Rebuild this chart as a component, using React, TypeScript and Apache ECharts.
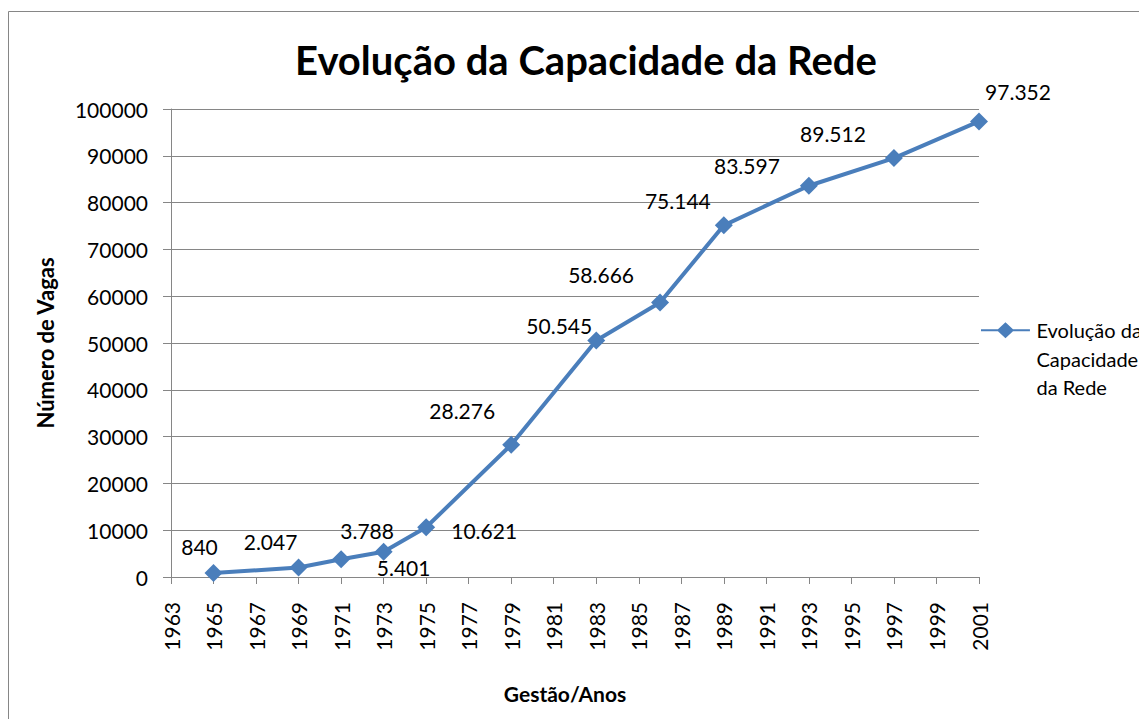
import React, { useEffect, useRef } from "react";
import * as echarts from "echarts";

const years = [1965, 1969, 1971, 1973, 1975, 1979, 1983, 1986, 1989, 1993, 1997, 2001];
const vagas = [840, 2047, 3788, 5401, 10621, 28276, 50545, 58666, 75144, 83597, 89512, 97352];
const valueLabels = ["840", "2.047", "3.788", "5.401", "10.621", "28.276", "50.545", "58.666", "75.144", "83.597", "89.512", "97.352"];
const labelOffsets: [number, number][] = [
  [-14, -27], [-28, -26], [26, -29], [20, 16], [58, 3], [-49, -34],
  [-37, -15], [-59, -28], [-46, -25], [-62, -20], [-61, -25], [39, -30],
];

const seriesName = "Evolução da Capacidade da Rede";
const FONT = "Lato, 'Open Sans', sans-serif";
const LINE = "#4A7EBB";
const GREY = "#868686";

export default function App() {
  const ref = useRef<HTMLDivElement>(null);
  useEffect(() => {
    if (!ref.current) return;
    const chart = echarts.init(ref.current, null, { renderer: "svg" });
    chart.setOption({
      animation: false,
      backgroundColor: "#fff",
      textStyle: { fontFamily: FONT },
      title: {
        text: "Evolução da Capacidade da Rede",
        left: 573,
        top: 27,
        textAlign: "center",
        textStyle: { fontFamily: FONT, fontWeight: "bold", fontSize: 40, color: "#000" },
      },
      graphic: [
        {
          type: "rect",
          shape: { x: 0.5, y: 3.5, width: 1200, height: 800 },
          style: { fill: "none", stroke: GREY, lineWidth: 1 },
          silent: true,
        },
      ],
      legend: {
        data: [seriesName],
        left: 968,
        top: 246,
        orient: "vertical",
        itemWidth: 52,
        itemHeight: 16,
        itemGap: 4,
        icon: "path://M0,7.5 L18,7.5 L26,0 L34,7.5 L52,7.5 L52,9.5 L34,9.5 L26,17 L18,9.5 L0,9.5 Z",
        formatter: () => "\n\nEvolução da\nCapacidade\nda Rede",
        textStyle: { fontFamily: FONT, fontSize: 20, color: "#000", lineHeight: 28.5 },
      },
      grid: { left: 163, right: 168, top: 101, bottom: 142 },
      xAxis: {
        type: "value",
        min: 1963,
        max: 2001,
        interval: 2,
        name: "Gestão/Anos",
        nameLocation: "middle",
        nameGap: 106,
        nameTextStyle: { fontFamily: FONT, fontWeight: "bold", fontSize: 21, color: "#000", padding: [0, 20, 0, 0] },
        axisLine: { show: true, lineStyle: { color: GREY, width: 1 } },
        axisTick: { show: true, length: 7, lineStyle: { color: GREY } },
        splitLine: { show: false },
        axisLabel: {
          rotate: 90,
          margin: 25,
          fontFamily: FONT,
          fontSize: 21,
          color: "#000",
          formatter: (v: number) => String(v),
        },
      },
      yAxis: {
        type: "value",
        min: 0,
        max: 100000,
        interval: 10000,
        name: "Número de Vagas",
        nameLocation: "middle",
        nameRotate: 90,
        nameGap: 115,
        nameTextStyle: { fontFamily: FONT, fontWeight: "bold", fontSize: 22, color: "#000" },
        axisLine: { show: true, lineStyle: { color: GREY, width: 1 } },
        axisTick: { show: true, length: 8, lineStyle: { color: GREY } },
        splitLine: { show: true, lineStyle: { color: GREY, width: 1 } },
        axisLabel: { margin: 23, fontFamily: FONT, fontSize: 21, color: "#000", formatter: (v: number) => String(v) },
      },
      series: [
        {
          name: seriesName,
          type: "line",
          data: years.map((y, i) => ({
            value: [y, vagas[i]],
            label: { offset: labelOffsets[i] },
          })),
          symbol: "diamond",
          symbolSize: 18,
          lineStyle: { color: LINE, width: 4 },
          itemStyle: { color: LINE },
          label: {
            show: true,
            position: "inside",
            fontFamily: FONT,
            fontSize: 21,
            color: "#000",
            formatter: (p: any) => valueLabels[p.dataIndex],
          },
        },
      ],
    });
    return () => chart.dispose();
  }, []);
  return <div ref={ref} style={{ width: 1139, height: 711 }} />;
}
